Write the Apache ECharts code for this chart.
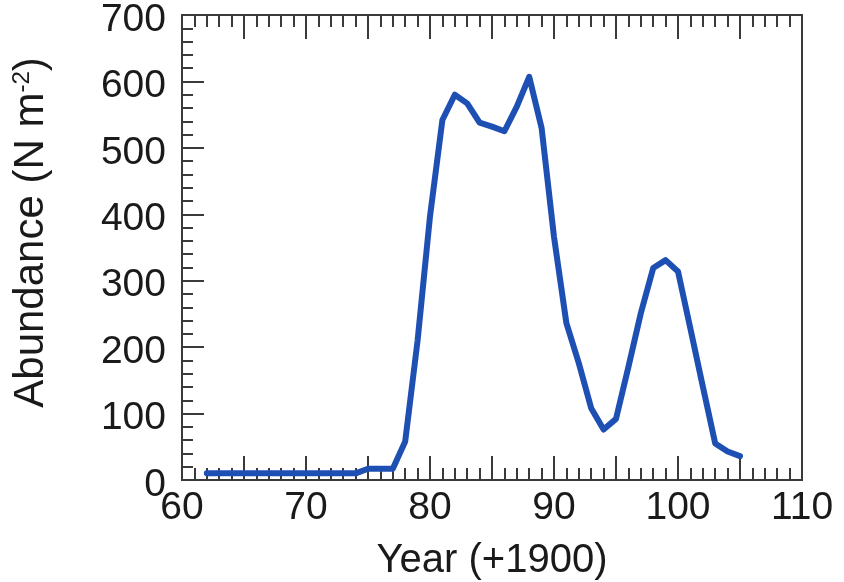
<!DOCTYPE html>
<html>
<head>
<meta charset="utf-8">
<script src="https://cdn.jsdelivr.net/npm/echarts@6/dist/echarts.min.js"></script>
<style>
html,body{margin:0;padding:0;background:#fff;}
#chart{width:844px;height:582px;}
</style>
</head>
<body>
<div id="chart"></div>
<script>
const years = [62,63,64,65,66,67,68,69,70,71,72,73,74,75,76,77,78,79,80,81,82,83,84,85,86,87,88,89,90,91,92,93,94,95,96,97,98,99,100,101,102,103,104,105];
const abundance = [10,10,10,10,10,10,10,10,10,10,10,10,10,17,17,17,58,210,397,542,580,567,538,532,525,562,607,530,366,236,176,108,76,92,170,251,319,331,314,228,141,55,43,36];
const xTicks = [60,70,80,90,100,110];
const yTicks = [0,100,200,300,400,500,600,700];

const font = "'Liberation Sans', Arial, sans-serif";
const axisColor = '#3a3a3a';
const textColor = '#1a1a1a';

const chart = echarts.init(document.getElementById('chart'));
chart.setOption({
  animation: false,
  backgroundColor: '#fff',
  grid: {left: 182, top: 15, right: 42, bottom: 102, containLabel: false, outerBoundsMode: 'none',
    show: true, borderColor: axisColor, borderWidth: 2, backgroundColor: 'transparent'},
  xAxis: [{
    type: 'value', position: 'bottom', min: 60, max: 110, interval: 5,
    axisLine: {show: true, onZero: false, lineStyle: {color: axisColor, width: 2}},
    axisTick: {show: true, inside: true, length: 24, lineStyle: {color: axisColor, width: 2}},
    minorTick: {show: true, splitNumber: 5, length: 12, lineStyle: {color: axisColor, width: 2}},
    splitLine: {show: false},
    axisLabel: {margin: 9, fontSize: 39, fontFamily: font, color: textColor,
      formatter: v => xTicks.includes(v) ? String(v) : ''},
    name: 'Year (+1900)', nameLocation: 'middle', nameGap: 61,
    nameTextStyle: {fontSize: 40, fontFamily: font, color: textColor}
  }, {
    type: 'value', position: 'top', min: 60, max: 110, interval: 5,
    axisLine: {show: true, onZero: false, lineStyle: {color: axisColor, width: 2}},
    axisTick: {show: true, inside: true, length: 24, lineStyle: {color: axisColor, width: 2}},
    minorTick: {show: true, splitNumber: 5, length: 12, lineStyle: {color: axisColor, width: 2}},
    splitLine: {show: false},
    axisLabel: {show: false}
  }],
  yAxis: [{
    type: 'value', min: 0, max: 700, interval: 100,
    axisLine: {show: true, onZero: false, lineStyle: {color: axisColor, width: 2}},
    axisTick: {show: true, inside: true, length: 22, lineStyle: {color: axisColor, width: 2}},
    minorTick: {show: true, splitNumber: 5, length: 11, lineStyle: {color: axisColor, width: 2}},
    splitLine: {show: false},
    axisLabel: {margin: 16, fontSize: 39, fontFamily: font, color: textColor,
      formatter: v => yTicks.includes(v) ? '{v|' + v + '}' : '',
      rich: {v: {fontSize: 39, fontFamily: font, color: textColor, padding: [10, 0, 0, 0]}}},
    name: '{a|Abundance (N m}{s|-2}{a|)}', nameLocation: 'middle', nameGap: 130,
    nameTextStyle: {fontFamily: font, color: textColor, padding: [0, 0, 0, 30],
      rich: {
        a: {fontSize: 42, fontFamily: font, color: textColor},
        s: {fontSize: 24, fontFamily: font, color: textColor, verticalAlign: 'top', padding: [0, 0, 18, 0]}
      }}
  }],
  series: [{
    type: 'line', xAxisIndex: 0, yAxisIndex: 0,
    data: years.map((y, i) => [y, abundance[i]]),
    showSymbol: false, symbol: 'none',
    lineStyle: {color: '#1e50b4', width: 6, join: 'round', cap: 'round'},
    itemStyle: {color: '#1e50b4'}
  }]
});
</script>
</body>
</html>
